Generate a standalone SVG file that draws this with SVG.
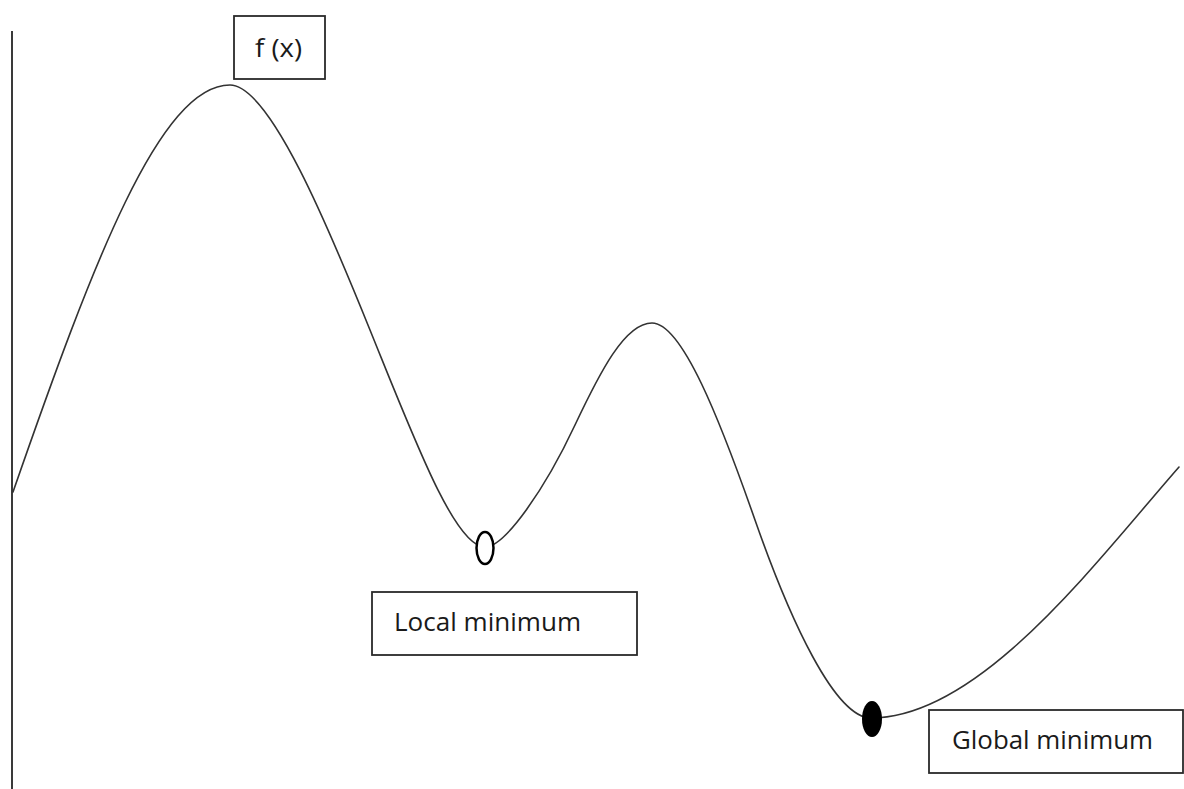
<svg xmlns="http://www.w3.org/2000/svg" width="1184" height="789" viewBox="0 0 1184 789">
  <style>
    .box { fill: #ffffff; stroke: #2a2a2a; stroke-width: 1.8; }
    .label { font-family: "Open Sans", "Liberation Sans", sans-serif; font-size: 25px; fill: #1a1a1a; }
    .curve { fill: none; stroke: #333333; stroke-width: 1.6; stroke-linecap: round; }
    .axis { stroke: #3a3a3a; stroke-width: 2; }
  </style>
  <rect width="1184" height="789" fill="#ffffff"/>

  <!-- vertical axis -->
  <g id="axis">
    <line class="axis" x1="12" y1="31" x2="12" y2="789"/>
  </g>

  <!-- the function curve -->
  <g id="connectors">
    <path class="curve" d="M13,492
      C93,262 160,85 230,85
      C270,85 330,231 370,330
      C415,441 455,547 485,547
      C505,547 545,489 575,425
      C600,372 625,323 652,323
      C682,323 720,420 755,520
      C790,620 835,718 871,718
      C980,718 1095,563 1179,467"/>
  </g>

  <g id="fx-label">
    <rect class="box" x="234" y="16" width="91" height="63"/>
    <text class="label" x="255" y="57" textLength="47" lengthAdjust="spacingAndGlyphs">f (x)</text>
  </g>

  <g id="local-minimum-point">
    <ellipse cx="485" cy="548" rx="8.5" ry="16" fill="#ffffff" stroke="#000000" stroke-width="2.5"/>
  </g>

  <g id="global-minimum-point">
    <ellipse cx="872" cy="719" rx="10" ry="18" fill="#000000"/>
  </g>

  <g id="local-minimum-label">
    <rect class="box" x="372" y="592" width="265" height="63"/>
    <text class="label" x="394" y="631" textLength="187" lengthAdjust="spacingAndGlyphs">Local minimum</text>
  </g>

  <g id="global-minimum-label">
    <rect class="box" x="929" y="710" width="254" height="63"/>
    <text class="label" x="952" y="749" textLength="201" lengthAdjust="spacingAndGlyphs">Global minimum</text>
  </g>
</svg>
